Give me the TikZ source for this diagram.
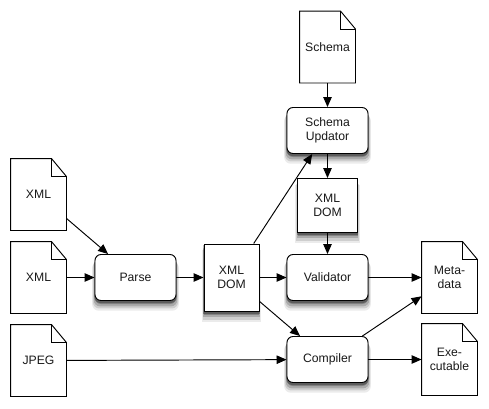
\documentclass[tikz,border=0pt]{standalone}
\usepackage{fontspec}
\setmainfont{Liberation Sans}
\usetikzlibrary{arrows.meta, shadows}
\tikzstyle{softshadow} = [drop shadow={shadow xshift=0pt, shadow yshift=-2pt, opacity=.3, fill=black, shadow scale=1.02}, drop shadow={shadow xshift=0pt, shadow yshift=-3.5pt, opacity=.22, fill=black}, drop shadow={shadow xshift=0pt, shadow yshift=-5pt, opacity=.18, fill=black, shadow scale=1.03}, drop shadow={shadow xshift=0pt, shadow yshift=-6.5pt, opacity=.12, fill=black, shadow scale=1.05}, drop shadow={shadow xshift=0pt, shadow yshift=-8pt, opacity=.08, fill=black, shadow scale=1.07}]
\tikzstyle{process} = [rectangle, rounded corners=6pt, minimum width=81pt, minimum height=46pt, align=center, draw=black, fill=white, softshadow]
\tikzstyle{dom} = [rectangle, minimum height=67pt, align=center, draw=black, fill=white, softshadow]
\tikzstyle{doc} = [rectangle, minimum width=55pt, minimum height=71pt, align=center, append after command={\pgfextra{
	\draw (\tikzlastnode.north west) -- ([xshift=-15pt]\tikzlastnode.north east) -- ([yshift=-18pt]\tikzlastnode.north east) -- (\tikzlastnode.south east) -- (\tikzlastnode.south west) -- cycle;
	\draw ([xshift=-15pt]\tikzlastnode.north east) |- ([yshift=-18pt]\tikzlastnode.north east);}}]
\tikzstyle{arrow} = [-{Stealth[length=10pt, width=8.5pt, inset=0pt]}]

\begin{document}
\begin{tikzpicture}[x=1pt, y=1pt, line width=.95pt, font=\fontsize{12.2}{14}\selectfont, text=black!90]
	\useasboundingbox (0,0) rectangle (489,-408);
	\node (xmlA) [doc] at (38.5,-194.5) {XML};
	\node (xmlB) [doc, below of=xmlA, node distance=83pt] {XML};
	\node (jpeg) [doc, below of=xmlB, node distance=83pt] {JPEG};
	\node (parse) [process, right of=xmlB, node distance=97pt] {Parse};
	\node (domA) [dom, minimum width=55pt, right of=parse, node distance=96pt] {XML\\DOM};
	\node (validator) [process, right of=domA, node distance=96pt] {Validator};
	\node (domB) [dom, minimum width=60pt, minimum height=54pt, above of=validator, node distance=72pt] {XML\\DOM};
	\node (updator) [process, above of=domB, node distance=75pt] {Schema\\Updator};
	\node (schema) [doc, above of=updator, node distance=83.5pt] {Schema};
	\node (compiler) [process, below of=validator, node distance=82pt] {Compiler};
	\node (meta) [doc, right of=validator, node distance=122pt] {Meta-\\data};
	\node (exe) [doc, right of=compiler, node distance=122pt] {Exe-\\cutable};

	\draw [arrow](xmlA) -- (parse);
	\draw [arrow](xmlB) -- (parse);
	\draw [arrow](jpeg) -- (compiler);
	\draw [arrow](parse) -- (domA);
	\draw [arrow](domA) -- (updator);
	\draw [arrow](domA) -- (validator);
	\draw [arrow](domA) -- (compiler);
	\draw [arrow](schema) -- (updator);
	\draw [arrow](updator) -- (domB);
	\draw [arrow](domB) -- (validator);
	\draw [arrow](validator) -- (meta);
	\draw [arrow](compiler) -- (meta);
	\draw [arrow](compiler) -- (exe);
\end{tikzpicture}
\end{document}
